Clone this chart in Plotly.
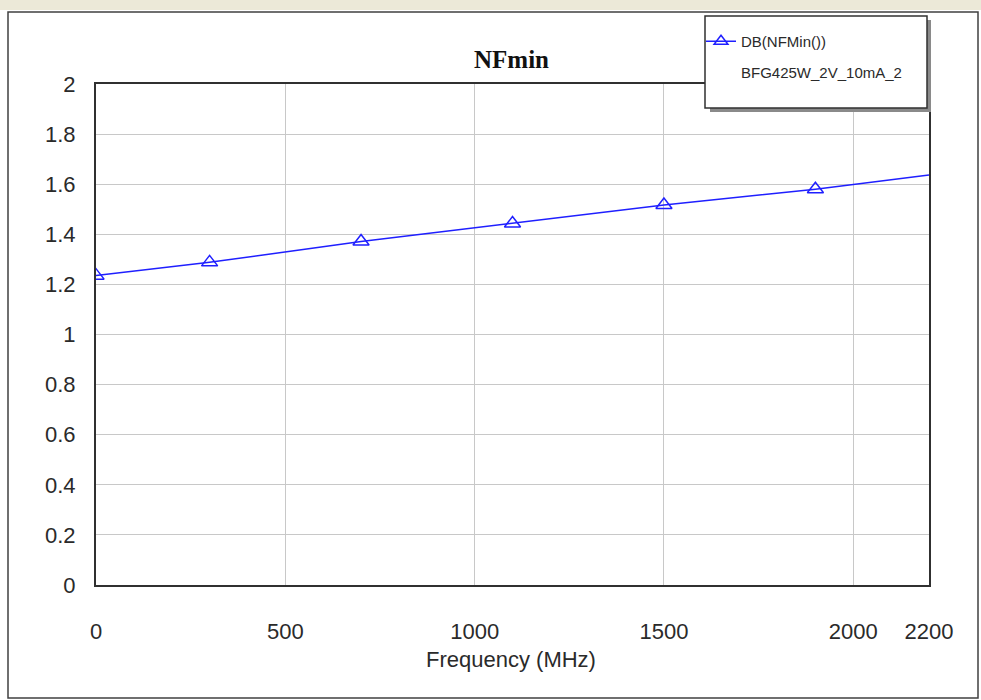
import plotly.graph_objects as go

# ---- data ----
freq_mhz = [0, 300, 700, 1100, 1500, 1900, 2200]
nfmin_db = [1.235, 1.288, 1.371, 1.443, 1.517, 1.580, 1.637]
marker_freq = [0, 300, 700, 1100, 1500, 1900]
marker_nf = [1.235, 1.288, 1.371, 1.443, 1.517, 1.580]

x_ticks = [0, 500, 1000, 1500, 2000, 2200]
x_ticktext = ["0", "500", "1000", "1500", "2000", "2200"]
y_ticks = [0, 0.2, 0.4, 0.6, 0.8, 1, 1.2, 1.4, 1.6, 1.8, 2]

series_name = "DB(NFMin())"
series_sub = "BFG425W_2V_10mA_2"
title_text = "NFmin"
x_title = "Frequency (MHz)"

W, H = 981, 700
L, R, T, B = 96, 929, 84, 585
pw, ph = R - L, B - T


def px(x):
    return (x - L) / pw


def py(y):
    return (B - y) / ph


BLUE = "#1f1fff"
FONT = "Liberation Sans, Arial, sans-serif"
TXT = "#2a2a2a"

fig = go.Figure()
fig.add_trace(go.Scatter(
    x=freq_mhz, y=nfmin_db, mode="lines",
    line=dict(color=BLUE, width=1.5),
    showlegend=False, hoverinfo="skip",
))
fig.add_trace(go.Scatter(
    x=marker_freq, y=marker_nf, mode="markers",
    marker=dict(symbol="triangle-up-open", size=14, color=BLUE,
                line=dict(color=BLUE, width=1.5)),
    name=series_name, showlegend=False,
))
# legend sample (line + marker)
fig.add_trace(go.Scatter(
    x=[None], y=[None], mode="lines+markers",
    line=dict(color=BLUE, width=1.5),
    marker=dict(symbol="triangle-up-open", size=12, color=BLUE,
                line=dict(color=BLUE, width=1.5)),
    name=series_name, showlegend=True,
))

shapes = [
    # top beige strip
    dict(type="rect", xref="paper", yref="paper", x0=px(0), x1=px(W),
         y0=py(0), y1=py(10), fillcolor="#ECE9D8", line=dict(width=0),
         layer="below"),
    # outer frame
    dict(type="rect", xref="paper", yref="paper", x0=px(8), x1=px(978),
         y0=py(12), y1=py(698), line=dict(color="#404040", width=1.5),
         fillcolor="rgba(0,0,0,0)", layer="below"),
    # legend shadow
    dict(type="rect", xref="paper", yref="paper", x0=px(710), x1=px(931),
         y0=py(20), y1=py(112), fillcolor="#8a8a8a", line=dict(width=0),
         layer="above"),
    # legend box
    dict(type="rect", xref="paper", yref="paper", x0=px(705), x1=px(927),
         y0=py(16), y1=py(108), fillcolor="white",
         line=dict(color="#303030", width=1.5), layer="above"),
]

annotations = [
    dict(text="<b>" + title_text + "</b>", xref="paper", yref="paper",
         x=px(511), y=py(59), xanchor="center", yanchor="middle",
         showarrow=False,
         font=dict(family="Liberation Serif, Times New Roman, serif",
                   size=25, color="#111111")),
    dict(text=x_title, xref="paper", yref="paper", x=px(511), y=py(659),
         xanchor="center", yanchor="middle", showarrow=False,
         font=dict(family=FONT, size=22, color=TXT)),
    dict(text=series_sub, xref="paper", yref="paper", x=px(739), y=py(72),
         xanchor="left", yanchor="middle", showarrow=False,
         font=dict(family=FONT, size=15, color=TXT)),
]

fig.update_layout(
    width=W, height=H,
    margin=dict(l=L, r=W - R, t=T, b=H - B, pad=0),
    paper_bgcolor="white", plot_bgcolor="white",
    shapes=shapes, annotations=annotations,
    showlegend=True,
    legend=dict(x=px(701), y=py(25), xanchor="left", yanchor="top",
                bgcolor="rgba(0,0,0,0)", borderwidth=0,
                font=dict(family=FONT, size=15, color=TXT),
                itemwidth=30, tracegroupgap=0),
    xaxis=dict(range=[0, 2200], tickvals=x_ticks, ticktext=x_ticktext,
               showgrid=True, gridcolor="#c8c8c8", gridwidth=1,
               showline=True, linecolor="#303030", linewidth=2, mirror=True,
               zeroline=False, ticks="outside", ticklen=26,
               tickcolor="rgba(0,0,0,0)",
               tickfont=dict(family=FONT, size=22, color=TXT)),
    yaxis=dict(range=[0, 2], tickvals=y_ticks,
               showgrid=True, gridcolor="#c8c8c8", gridwidth=1,
               showline=True, linecolor="#303030", linewidth=2, mirror=True,
               zeroline=False, ticks="outside", ticklen=14,
               tickcolor="rgba(0,0,0,0)",
               tickfont=dict(family=FONT, size=22, color=TXT)),
)

fig.write_html("out.html")
